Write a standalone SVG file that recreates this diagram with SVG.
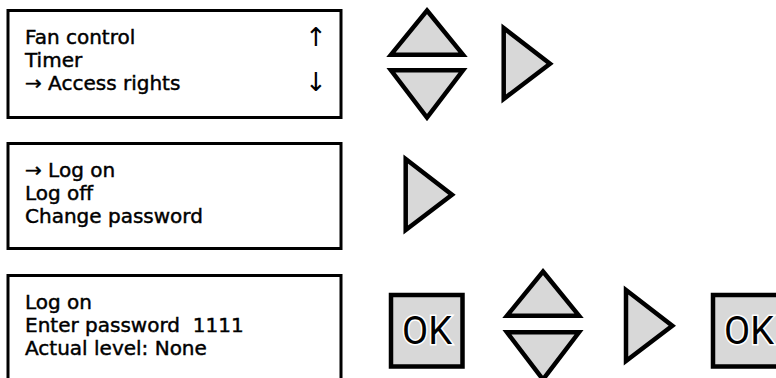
<svg xmlns="http://www.w3.org/2000/svg" width="776" height="378" viewBox="0 0 776 378">
<style>
.box{fill:#fff;stroke:#000;stroke-width:3}
.t{font-family:"DejaVu Sans",sans-serif;font-size:20px;fill:#000;stroke:#000;stroke-width:0.45;white-space:pre}
.arr{font-family:"DejaVu Sans",sans-serif;font-size:26px;fill:#000;text-anchor:middle}
.tri{fill:#d8d8d8;stroke:#000;stroke-width:4.5;stroke-linejoin:miter}
.okb{fill:#d8d8d8;stroke:#000;stroke-width:4.5}
.ok{font-family:Roboto,"Liberation Sans",sans-serif;font-size:38px;fill:#000;stroke:#fff;stroke-width:3;paint-order:stroke;text-anchor:middle}
</style>
<defs>
<path id="up" d="M427,10.5 L463,54.7 L391,54.7 Z"/>
<path id="down" d="M391,70.3 L463,70.3 L427,117.5 Z"/>
<path id="right" d="M503.7,28 L550,63.7 L503.7,99 Z"/>
</defs>
<g id="screen1">
<rect class="box" x="8" y="10.5" width="333" height="107"/>
<text class="t" x="25" y="44">Fan control</text>
<text class="t" x="25" y="67">Timer</text>
<text class="t" x="25" y="90">→ Access rights</text>
<text class="arr" x="316" y="46">↑</text>
<text class="arr" x="316" y="91">↓</text>
</g>
<g id="screen2">
<rect class="box" x="8" y="143.5" width="333" height="105"/>
<text class="t" x="25" y="176.5">→ Log on</text>
<text class="t" x="25" y="199.5">Log off</text>
<text class="t" x="25" y="222.5">Change password</text>
</g>
<g id="screen3">
<path class="box" d="M8,380 L8,275.5 L341,275.5 L341,380"/>
<text class="t" x="25" y="309">Log on</text>
<text class="t" x="25" y="332" xml:space="preserve">Enter password  1111</text>
<text class="t" x="25" y="355">Actual level: None</text>
</g>
<g id="row1-keys">
<use href="#up" class="tri"/>
<use href="#down" class="tri"/>
<use href="#right" class="tri"/>
</g>
<g id="row2-keys">
<use href="#right" class="tri" transform="translate(-98,131)"/>
</g>
<g id="row3-keys">
<g id="ok1">
<rect class="okb" x="391" y="295" width="71.5" height="71.5"/>
<text class="ok" x="427" y="344">OK</text>
</g>
<use href="#up" class="tri" transform="translate(116,261)"/>
<use href="#down" class="tri" transform="translate(116,262)"/>
<use href="#right" class="tri" transform="translate(122.3,262)"/>
<g id="ok2">
<rect class="okb" x="713" y="295" width="71.5" height="71.5"/>
<text class="ok" x="749" y="344">OK</text>
</g>
</g>
</svg>
